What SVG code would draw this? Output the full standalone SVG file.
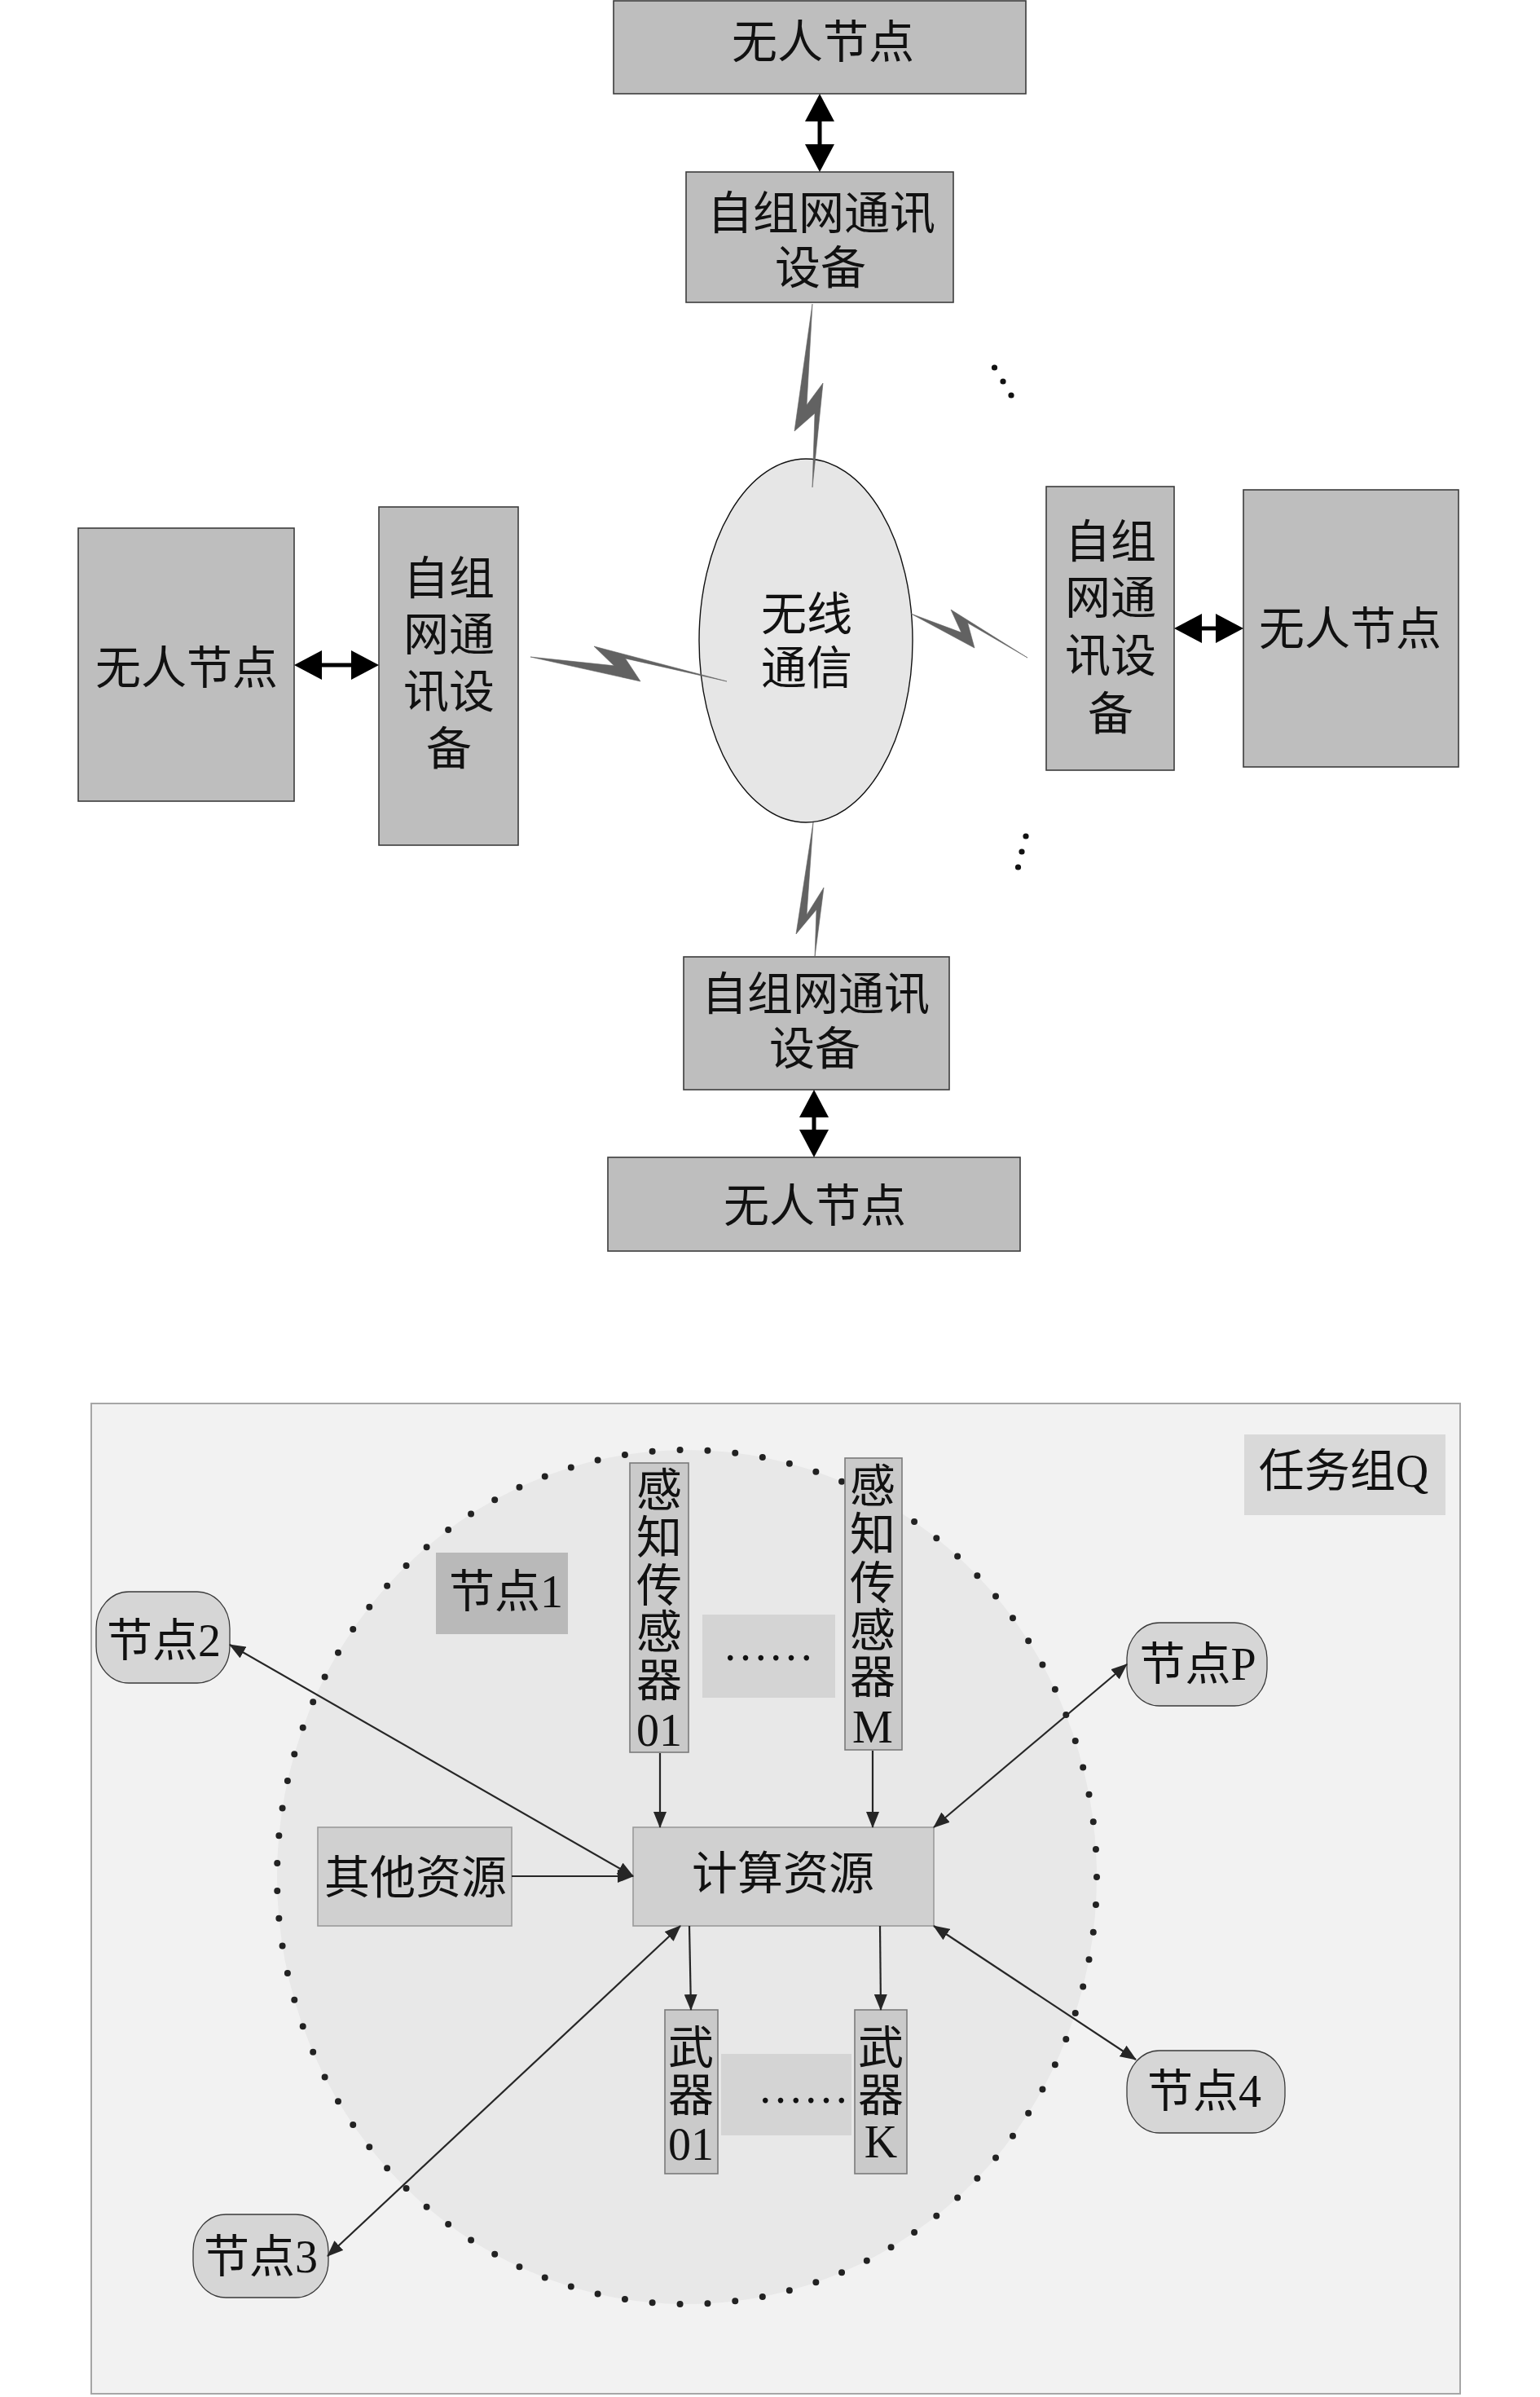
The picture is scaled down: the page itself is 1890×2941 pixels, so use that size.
<svg xmlns="http://www.w3.org/2000/svg" width="1890" height="2941" viewBox="0 0 1890 2941">
<defs>
<style>
text{font-family:"Liberation Serif","Noto Sans CJK SC",serif;font-size:56px;fill:#111;text-anchor:middle}
.box{fill:#bebebe;stroke:#3c3c3c;stroke-width:1.6}
.bolt{fill:#626262;stroke:#626262;stroke-width:0.6;stroke-linejoin:miter}
.big{stroke:#000;stroke-width:5;fill:none}
.thin{stroke:#262626;stroke-width:2.2;fill:none}
.dots3{fill:#111}
.res{fill:#d0d0d0;stroke:#9a9a9a;stroke-width:1.6}
.tall{fill:#cacaca;stroke:#7a7a7a;stroke-width:1.6}
.gap{fill:#d4d4d4}
.peer{fill:#d6d6d6;stroke:#3a3a3a;stroke-width:1.3}
</style>
<marker id="bigHead" markerUnits="userSpaceOnUse" markerWidth="34" markerHeight="36" viewBox="0 0 34 36" refX="0" refY="18" orient="auto-start-reverse"><path d="M0,0 L34,18 L0,36 Z" fill="#000"/></marker>
<marker id="head" markerUnits="userSpaceOnUse" markerWidth="20" markerHeight="16" viewBox="0 0 20 16" refX="19" refY="8" orient="auto-start-reverse"><path d="M0,0 L20,8 L0,16 Z" fill="#262626"/></marker>
</defs>

<rect x="0" y="0" width="1890" height="2941" fill="#fff"/>

<!-- ===== Upper diagram ===== -->
<g id="wireless">
<ellipse cx="989" cy="786" rx="131" ry="223" fill="#e6e6e6" stroke="#111" stroke-width="1.4"/>
<text x="990" y="773">无线</text>
<text x="990" y="839">通信</text>
</g>

<g id="node-top"><rect class="box" x="753" y="1" width="506" height="114"/><text x="1010" y="71">无人节点</text></g>
<g id="dev-top"><rect class="box" x="842" y="211" width="328" height="160"/><text x="1008" y="281">自组网通讯</text><text x="1007" y="348">设备</text></g>

<g id="node-left"><rect class="box" x="96" y="648" width="265" height="335"/><text x="229" y="839">无人节点</text></g>
<g id="dev-left"><rect class="box" x="465" y="622" width="171" height="415"/>
<text x="551" y="729">自组</text><text x="551" y="798">网通</text><text x="551" y="868">讯设</text><text x="551" y="938">备</text></g>

<g id="dev-right"><rect class="box" x="1284" y="597" width="157" height="348"/>
<text x="1363" y="684">自组</text><text x="1363" y="753">网通</text><text x="1363" y="824">讯设</text><text x="1363" y="895">备</text></g>
<g id="node-right"><rect class="box" x="1526" y="601" width="264" height="340"/><text x="1657" y="791">无人节点</text></g>

<g id="dev-bottom"><rect class="box" x="839" y="1174" width="326" height="163"/><text x="1001" y="1239">自组网通讯</text><text x="1000" y="1306">设备</text></g>
<g id="node-bottom"><rect class="box" x="746" y="1420" width="506" height="115"/><text x="1000" y="1499">无人节点</text></g>

<g id="ellipsis-marks" class="dots3">
<circle cx="1220.5" cy="451" r="3.6"/><circle cx="1231" cy="468" r="3.6"/><circle cx="1241" cy="485" r="3.6"/>
<circle cx="1259" cy="1026" r="3.6"/><circle cx="1254" cy="1045" r="3.6"/><circle cx="1249.5" cy="1064" r="3.6"/>
</g>

<g id="upper-connectors">
<polygon class="bolt" points="997,373 975,529 1000,507 997,598 1010,470 990,497"/>
<polygon class="bolt" points="998,1009 977,1146 1002,1116 1000,1174 1011,1089 990,1122.5"/>
<polygon class="bolt" points="651,806 786,836 767.5,807.9 892,836 729,793 753.6,816.8"/>
<polygon class="bolt" points="1118,753 1196,795 1187.6,764.3 1261,807 1167,748 1179.8,776.1"/>
<line class="big" x1="1006" y1="149" x2="1006" y2="177" marker-start="url(#bigHead)" marker-end="url(#bigHead)"/>
<line class="big" x1="999" y1="1371" x2="999" y2="1386" marker-start="url(#bigHead)" marker-end="url(#bigHead)"/>
<line class="big" x1="395" y1="816" x2="431" y2="816" marker-start="url(#bigHead)" marker-end="url(#bigHead)"/>
<line class="big" x1="1475" y1="771" x2="1492" y2="771" marker-start="url(#bigHead)" marker-end="url(#bigHead)"/>
</g>

<!-- ===== Lower diagram ===== -->
<g id="task-group">
<rect x="112" y="1722" width="1680" height="1215" fill="#f2f2f2" stroke="#a6a6a6" stroke-width="2"/>
<rect x="1527" y="1760" width="247" height="99" fill="#d9d9d9"/>
<text x="1649" y="1824">任务组Q</text>
</g>

<g id="node1">
<ellipse cx="843" cy="2303" rx="503" ry="524" fill="#e8e8e8" stroke="#222" stroke-width="8" stroke-linecap="round" pathLength="95" stroke-dasharray="0 1"/>
<rect x="535" y="1905" width="162" height="100" fill="#b9b9b9"/>
<text x="621" y="1972">节点1</text>
</g>

<g id="sensor-01"><rect class="tall" x="773" y="1795" width="72" height="355"/>
<text x="809" y="1848">感</text><text x="809" y="1906">知</text><text x="809" y="1965">传</text><text x="809" y="2022">感</text><text x="809" y="2081">器</text><text x="809" y="2142">01</text></g>
<g id="sensor-M"><rect class="tall" x="1037" y="1789" width="70" height="358"/>
<text x="1071" y="1843">感</text><text x="1071" y="1902">知</text><text x="1071" y="1962">传</text><text x="1071" y="2020">感</text><text x="1071" y="2077">器</text><text x="1071" y="2138">M</text></g>
<g id="sensor-gap"><rect class="gap" x="862" y="1981" width="163" height="102"/><text x="943" y="2037">……</text></g>

<g id="compute"><rect class="res" x="777" y="2242" width="369" height="121"/><text x="961" y="2318">计算资源</text></g>
<g id="other"><rect class="res" x="390" y="2242" width="238" height="121"/><text x="510" y="2323">其他资源</text></g>

<g id="weapon-01"><rect class="tall" x="816" y="2466" width="65" height="201"/>
<text x="848" y="2532">武</text><text x="848" y="2590">器</text><text x="848" y="2650">01</text></g>
<g id="weapon-K"><rect class="tall" x="1049" y="2466" width="64" height="201"/>
<text x="1081" y="2532">武</text><text x="1081" y="2590">器</text><text x="1081" y="2647">K</text></g>
<g id="weapon-gap"><rect class="gap" x="885" y="2520" width="160" height="100"/><text x="986" y="2580">……</text></g>

<g id="node2"><rect class="peer" x="118" y="1953" width="164" height="112" rx="40" ry="45"/><text x="201" y="2032">节点2</text></g>
<g id="nodeP"><rect class="peer" x="1383" y="1991" width="172" height="102" rx="40" ry="45"/><text x="1470" y="2061">节点P</text></g>
<g id="node4"><rect class="peer" x="1383" y="2516" width="194" height="101" rx="40" ry="45"/><text x="1478" y="2585">节点4</text></g>
<g id="node3"><rect class="peer" x="237" y="2717" width="166" height="102" rx="40" ry="45"/><text x="320" y="2788">节点3</text></g>

<g id="lower-connectors">
<line class="thin" x1="810" y1="2151" x2="810" y2="2242" marker-end="url(#head)"/>
<line class="thin" x1="1071" y1="2148" x2="1071" y2="2242" marker-end="url(#head)"/>
<line class="thin" x1="628" y1="2302" x2="777" y2="2302" marker-end="url(#head)"/>
<line class="thin" x1="282" y1="2018" x2="777" y2="2302" marker-start="url(#head)" marker-end="url(#head)"/>
<line class="thin" x1="1383" y1="2042" x2="1146" y2="2242" marker-start="url(#head)" marker-end="url(#head)"/>
<line class="thin" x1="846" y1="2363" x2="848" y2="2466" marker-end="url(#head)"/>
<line class="thin" x1="1080" y1="2363" x2="1081" y2="2466" marker-end="url(#head)"/>
<line class="thin" x1="835" y1="2363" x2="402" y2="2768" marker-start="url(#head)" marker-end="url(#head)"/>
<line class="thin" x1="1146" y1="2363" x2="1394" y2="2527" marker-start="url(#head)" marker-end="url(#head)"/>
</g>
</svg>
